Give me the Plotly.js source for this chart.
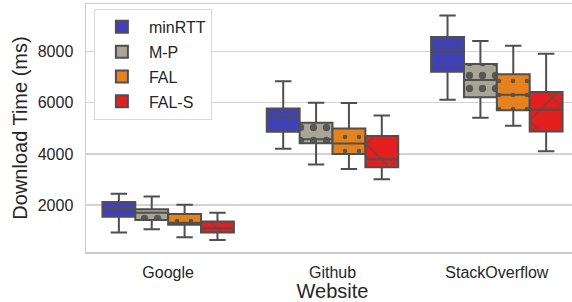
<!DOCTYPE html>
<html><head><meta charset="utf-8">
<script src="https://cdn.plot.ly/plotly-3.0.1.min.js"></script>
<style>html,body{margin:0;padding:0;background:#fff;overflow:hidden;width:572px;height:302px}</style>
</head><body><div id="chart" style="width:581px;height:302px"></div>
<script>
const websites = ["Google", "Github", "StackOverflow"];
const seriesNames = ["minRTT", "M-P", "FAL", "FAL-S"];
// per series: values for [Google, Github, StackOverflow]
const lowerWhisker = {
  "minRTT": [920, 4200, 6120],
  "M-P":    [1050, 3590, 5420],
  "FAL":    [740, 3410, 5100],
  "FAL-S":  [630, 3010, 4100]
};
const q1Values = {
  "minRTT": [1540, 4870, 7220],
  "M-P":    [1410, 4420, 6220],
  "FAL":    [1230, 4000, 5710],
  "FAL-S":  [920, 3480, 4880]
};
const medianValues = {
  "minRTT": [1840, 5500, 8070],
  "M-P":    [1700, 4570, 6890],
  "FAL":    [1310, 4410, 6320],
  "FAL-S":  [1090, 3790, 5730]
};
const q3Values = {
  "minRTT": [2120, 5780, 8580],
  "M-P":    [1830, 5220, 7520],
  "FAL":    [1650, 5000, 7120],
  "FAL-S":  [1350, 4700, 6420]
};
const upperWhisker = {
  "minRTT": [2440, 6850, 9420],
  "M-P":    [2330, 6000, 8420],
  "FAL":    [2010, 5990, 8240],
  "FAL-S":  [1700, 5500, 7920]
};
const colors = {"minRTT": "#4040bd", "M-P": "#a8a696", "FAL": "#e5821e", "FAL-S": "#e31e1e"};
const patterns = {
  "minRTT": {shape: "+", size: 11, solidity: 0.12},
  "M-P":    {shape: ".", size: 13, solidity: 0.25},
  "FAL":    {shape: ".", size: 14, solidity: 0.08},
  "FAL-S":  {shape: "x", size: 33, solidity: 0.07}
};
const edge = "#4f4f4f";

const traces = [];
seriesNames.forEach(s => {
  traces.push({
    type: "box", name: s, legendgroup: s, x: websites,
    q1: q1Values[s], median: medianValues[s], q3: q3Values[s],
    lowerfence: lowerWhisker[s], upperfence: upperWhisker[s],
    fillcolor: colors[s], line: {color: edge, width: 2},
    whiskerwidth: 0.5, boxpoints: false, hoverinfo: "skip"
  });
});
seriesNames.forEach(s => {
  traces.push({
    type: "bar", name: s + " hatch", legendgroup: s, x: websites, yaxis: "y2",
    base: q1Values[s], y: q3Values[s].map((v, i) => v - q1Values[s][i]),
    marker: {color: "rgba(0,0,0,0)", line: {width: 0},
      pattern: Object.assign({fillmode: "overlay", fgcolor: edge, fgopacity: 0.9}, patterns[s])},
    showlegend: false, hoverinfo: "skip"
  });
});

const font = {family: "Liberation Sans, Arial, sans-serif", color: "#262626"};
const yRange = [160, 9870];
const layout = {
  width: 581, height: 302,
  margin: {l: 86, r: 2, t: 4, b: 50},
  paper_bgcolor: "#fff", plot_bgcolor: "#fff",
  font: font,
  boxmode: "group", boxgap: 0.2, boxgroupgap: 0,
  barmode: "group", bargap: 0.2, bargroupgap: 0,
  showlegend: true,
  legend: {x: 0.016, y: 0.98, xanchor: "left", yanchor: "top",
    bgcolor: "#fff", bordercolor: "#d9d9d9", borderwidth: 1,
    font: {size: 16, family: font.family, color: "#262626"},
    itemwidth: 44, tracegroupgap: 1},
  xaxis: {type: "category", categoryorder: "array", categoryarray: websites,
    showline: true, mirror: true, linecolor: "#cccccc", linewidth: 1.5,
    showgrid: false, ticks: "", tickfont: {size: 16}, ticklabelstandoff: 5,
    title: {text: "Website", font: {size: 20}, standoff: 2}},
  yaxis: {range: yRange, tickvals: [2000, 4000, 6000, 8000],
    showline: true, mirror: true, linecolor: "#cccccc", linewidth: 1.5,
    gridcolor: "#d3d3d3", gridwidth: 1.2, zeroline: false, ticks: "",
    tickfont: {size: 16}, ticklabelstandoff: 8,
    title: {text: "Download Time (ms)", font: {size: 20}, standoff: 4}},
  yaxis2: {range: yRange, overlaying: "y", visible: false, showgrid: false}
};
Plotly.newPlot("chart", traces, layout, {displayModeBar: false, staticPlot: true});
</script></body></html>
